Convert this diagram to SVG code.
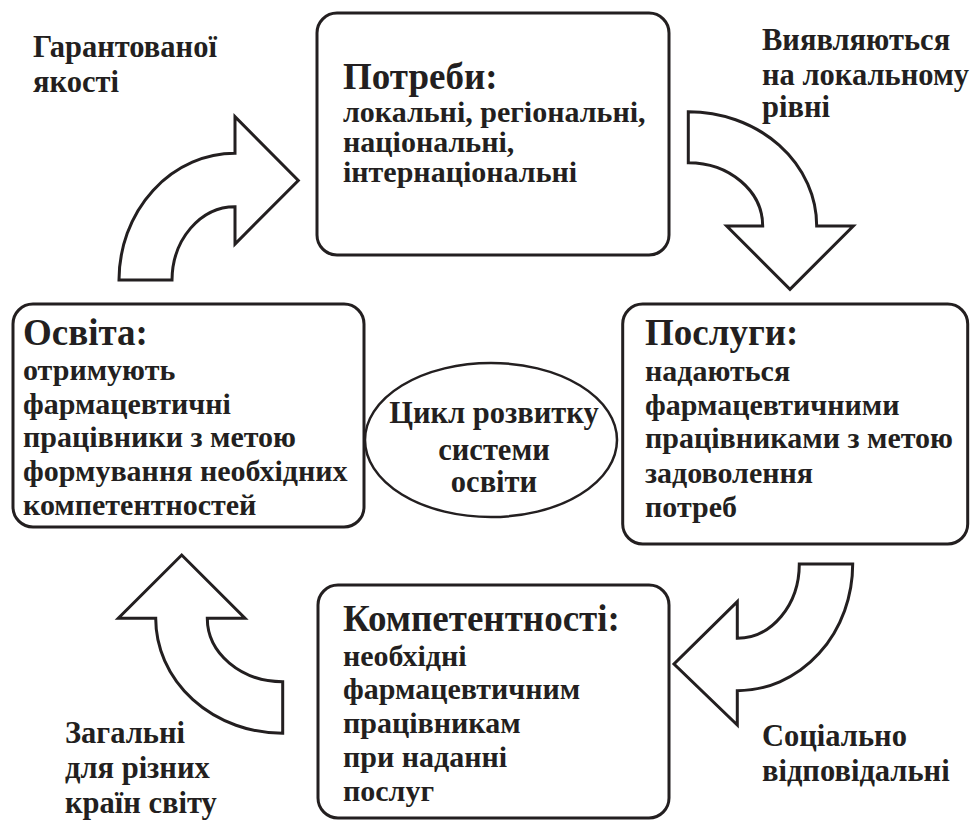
<svg xmlns="http://www.w3.org/2000/svg" width="970" height="820" viewBox="0 0 970 820">
<style>
.box{fill:#fff;stroke:#231f20;stroke-width:3}
.arr{fill:#fff;stroke:#231f20;stroke-width:3;stroke-linejoin:miter}
text{font-family:"Liberation Serif","DejaVu Serif",serif;font-weight:bold;fill:#231f20}
.t{font-size:37px}
.b{font-size:30px}
.l{font-size:30.5px}
.c{font-size:30.5px;text-anchor:middle}
</style>
<rect width="970" height="820" fill="#fff"/>
<g id="connectors">
<path class="arr" d="M119,280 A116,127 0 0 1 235,153.3 L235,116.7 L298.3,180.5 L235,244 L235,206.7 A63,74 0 0 0 172,280 Z"/>
<path class="arr" d="M688.3,111.7 A128.4,114.3 0 0 1 816.7,226 L853.3,226 L790,289.3 L726.7,226 L762.7,226 A74.4,63.3 0 0 0 688.3,162.7 Z"/>
<path class="arr" d="M852.7,564 A115.4,126.7 0 0 1 737.3,690.7 L737.3,725 L674,664 L737.3,601.7 L737.3,638.3 A62,74.3 0 0 0 799.3,564 Z"/>
<path class="arr" d="M282.7,733.3 A127,115 0 0 1 155.7,618.3 L118.3,618.3 L181.7,555 L245,618.3 L207.3,618.3 A75.4,63.4 0 0 0 282.7,681.7 Z"/>
</g>
<g id="needs">
<rect class="box" x="317" y="13" width="352" height="242" rx="20"/>
<text class="t" x="343" y="89">Потреби:</text>
<text class="b" x="343" y="122">локальні, регіональні,</text>
<text class="b" x="343" y="152">національні,</text>
<text class="b" x="343" y="182">інтернаціональні</text>
</g>
<g id="education">
<rect class="box" x="13" y="304" width="351" height="223" rx="20"/>
<text class="t" x="23" y="345">Освіта:</text>
<text class="b" x="23" y="380">отримують</text>
<text class="b" x="23" y="414">фармацевтичні</text>
<text class="b" x="23" y="447">працівники з метою</text>
<text class="b" x="23" y="481">формування необхідних</text>
<text class="b" x="23" y="515">компетентностей</text>
</g>
<g id="services">
<rect class="box" x="622.7" y="304" width="345" height="240" rx="20"/>
<text class="t" x="645" y="345">Послуги:</text>
<text class="b" x="645" y="381">надаються</text>
<text class="b" x="645" y="415">фармацевтичними</text>
<text class="b" x="645" y="448">працівниками з метою</text>
<text class="b" x="645" y="483">задоволення</text>
<text class="b" x="645" y="517">потреб</text>
</g>
<g id="competences">
<rect class="box" x="318" y="585" width="351" height="233" rx="20"/>
<text class="t" x="343" y="631">Компетентності:</text>
<text class="b" x="343" y="666">необхідні</text>
<text class="b" x="343" y="699">фармацевтичним</text>
<text class="b" x="343" y="733">працівникам</text>
<text class="b" x="343" y="767">при наданні</text>
<text class="b" x="343" y="801">послуг</text>
</g>
<g id="cycle">
<ellipse cx="491" cy="440" rx="126" ry="77" fill="#fff" stroke="#231f20" stroke-width="2.5"/>
<text class="c" x="494" y="423">Цикл розвитку</text>
<text class="c" x="494" y="460">системи</text>
<text class="c" x="494" y="492">освіти</text>
</g>
<g id="labels">
<text class="l" x="33" y="57">Гарантованої</text>
<text class="l" x="33" y="92">якості</text>
<text class="l" x="762" y="50">Виявляються</text>
<text class="l" x="762" y="85">на локальному</text>
<text class="l" x="762" y="117">рівні</text>
<text class="l" x="65" y="743">Загальні</text>
<text class="l" x="65" y="778">для різних</text>
<text class="l" x="65" y="813">країн світу</text>
<text class="l" x="762" y="746">Соціально</text>
<text class="l" x="762" y="781">відповідальні</text>
</g>
</svg>
